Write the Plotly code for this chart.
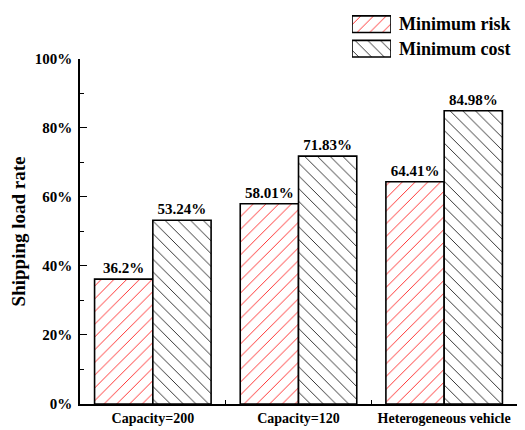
import plotly.graph_objects as go

categories = ["Capacity=200", "Capacity=120", "Heterogeneous vehicle"]
series_names = ["Minimum risk", "Minimum cost"]
min_risk = [36.2, 58.01, 64.41]
min_cost = [53.24, 71.83, 84.98]
y_ticks = [0, 20, 40, 60, 80, 100]
y_ticktext = [f"{v}%" for v in y_ticks]

FONT = "Liberation Serif"
W, H = 525, 430
ML, MR, MT, MB = 80, 8, 4, 25
plot_w = W - ML - MR
plot_h = H - MT - MB

def py(px):  # pixel y from top -> paper
    return (H - MB - px) / plot_h

def pxp(px):
    return (px - ML) / plot_w

styles = [
    dict(shape="/", fgcolor="#ff2020", fgopacity=1, bgcolor="white", size=9, solidity=0.1),
    dict(shape="\\", fgcolor="#202020", fgopacity=1, bgcolor="white", size=9, solidity=0.1),
]

fig = go.Figure()
for name, vals, pat in zip(series_names, [min_risk, min_cost], styles):
    fig.add_trace(go.Bar(
        x=categories, y=vals, name=name,
        text=[f"{v}%" for v in vals], texttemplate="%{text}", textposition="outside",
        marker=dict(color="white", pattern=pat, line=dict(color="black", width=1.6)),
        textfont=dict(family=FONT, size=15, color="black", weight="bold"),
        cliponaxis=False, showlegend=False,
    ))

# legend boxes drawn as patterned bars on a small overlay axis
for i, (name, pat) in enumerate(zip(series_names, styles)):
    fig.add_trace(go.Bar(
        x=[1], y=[1 - i], base=[0], orientation="h", width=0.68,
        marker=dict(color="white", pattern=pat, line=dict(color="black", width=1.6)),
        xaxis="x2", yaxis="y2", showlegend=False, hoverinfo="skip",
    ))
    fig.add_annotation(
        text=name, xref="paper", yref="y2", x=pxp(397), y=1 - i,
        xanchor="left", yanchor="middle", showarrow=False,
        font=dict(family=FONT, size=18, color="black", weight="bold"),
    )

fig.update_layout(
    width=W, height=H,
    margin=dict(l=ML, r=MR, t=MT, b=MB),
    paper_bgcolor="white", plot_bgcolor="white",
    barmode="group", bargap=0.2, bargroupgap=0,
    showlegend=False,
    font=dict(family=FONT, color="black"),
    xaxis=dict(
        type="category", range=[-0.5, 2.5], showline=True, linecolor="black", linewidth=1.6,
        ticks="inside", tickson="boundaries", ticklen=4, tickwidth=1.2, tickcolor="black",
        showgrid=False, zeroline=False,
        tickfont=dict(family=FONT, size=14, color="black", weight="bold"),
    ),
    yaxis=dict(
        domain=[0, py(52)], range=[0, 100], tickmode="array", tickvals=y_ticks, ticktext=y_ticktext,
        showline=True, linecolor="black", linewidth=1.6,
        ticks="inside", ticklen=7, tickwidth=1.2, tickcolor="black", ticklabelstandoff=3,
        minor=dict(dtick=10, ticks="inside", ticklen=4, tickwidth=1.2, tickcolor="black"),
        showgrid=False, zeroline=False,
        tickfont=dict(family=FONT, size=15, color="black", weight="bold"),
        title=dict(text="Shipping load rate", standoff=4,
                   font=dict(family=FONT, size=19, color="black", weight="bold")),
    ),
    xaxis2=dict(domain=[pxp(352), pxp(391)], range=[0, 1], anchor="y2", visible=False, fixedrange=True),
    yaxis2=dict(domain=[py(54), 1.0], range=[-0.5, 1.5], anchor="x2", visible=False, fixedrange=True),
)

fig.write_html("out.html")
